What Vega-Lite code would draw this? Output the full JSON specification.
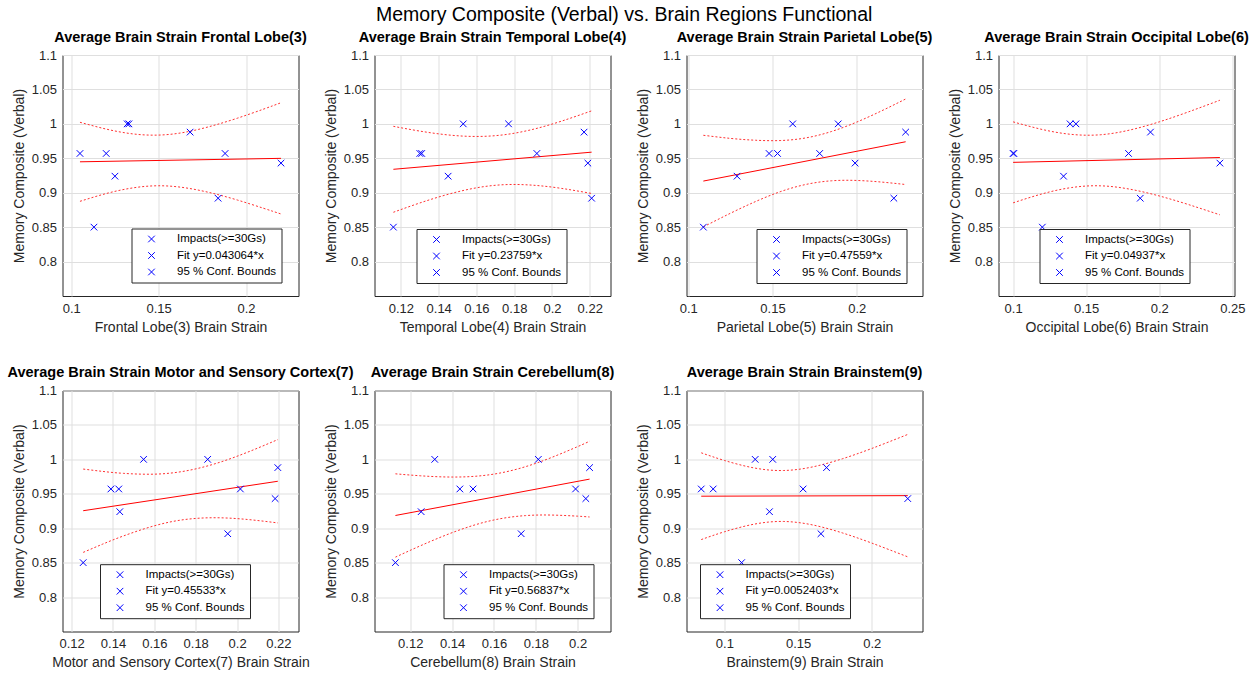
{
  "$schema": "https://vega.github.io/schema/vega-lite/v6.json",
  "background": "white",
  "padding": {"left": 6.5, "top": 4, "right": 5, "bottom": 5},
  "title": {"text": "Memory Composite (Verbal) vs. Brain Regions Functional", "font": "Liberation Sans", "fontSize": 19.5, "fontWeight": "normal", "color": "#000000", "anchor": "middle", "frame": "bounds", "offset": 4, "dx": -4},
  "data": {"values": [
    {"panel": "Frontal", "kind": "point", "series": "Impacts(>=30Gs)", "x": 0.105, "y": 0.957},
    {"panel": "Frontal", "kind": "point", "series": "Impacts(>=30Gs)", "x": 0.113, "y": 0.85},
    {"panel": "Frontal", "kind": "point", "series": "Impacts(>=30Gs)", "x": 0.12, "y": 0.957},
    {"panel": "Frontal", "kind": "point", "series": "Impacts(>=30Gs)", "x": 0.125, "y": 0.924},
    {"panel": "Frontal", "kind": "point", "series": "Impacts(>=30Gs)", "x": 0.132, "y": 1.0},
    {"panel": "Frontal", "kind": "point", "series": "Impacts(>=30Gs)", "x": 0.133, "y": 1.0},
    {"panel": "Frontal", "kind": "point", "series": "Impacts(>=30Gs)", "x": 0.168, "y": 0.988},
    {"panel": "Frontal", "kind": "point", "series": "Impacts(>=30Gs)", "x": 0.184, "y": 0.892},
    {"panel": "Frontal", "kind": "point", "series": "Impacts(>=30Gs)", "x": 0.188, "y": 0.957},
    {"panel": "Frontal", "kind": "point", "series": "Impacts(>=30Gs)", "x": 0.22, "y": 0.943},
    {"panel": "Frontal", "kind": "fit", "series": "Fit y=0.043064*x", "x": 0.105, "y": 0.9449},
    {"panel": "Frontal", "kind": "fit", "series": "Fit y=0.043064*x", "x": 0.22, "y": 0.9499},
    {"panel": "Frontal", "kind": "bound", "part": "upper", "series": "95 % Conf. Bounds", "x": 0.105, "y": 1.0023},
    {"panel": "Frontal", "kind": "bound", "part": "upper", "series": "95 % Conf. Bounds", "x": 0.12, "y": 0.9924},
    {"panel": "Frontal", "kind": "bound", "part": "upper", "series": "95 % Conf. Bounds", "x": 0.135, "y": 0.9855},
    {"panel": "Frontal", "kind": "bound", "part": "upper", "series": "95 % Conf. Bounds", "x": 0.15, "y": 0.9837},
    {"panel": "Frontal", "kind": "bound", "part": "upper", "series": "95 % Conf. Bounds", "x": 0.165, "y": 0.9878},
    {"panel": "Frontal", "kind": "bound", "part": "upper", "series": "95 % Conf. Bounds", "x": 0.18, "y": 0.9967},
    {"panel": "Frontal", "kind": "bound", "part": "upper", "series": "95 % Conf. Bounds", "x": 0.195, "y": 1.0082},
    {"panel": "Frontal", "kind": "bound", "part": "upper", "series": "95 % Conf. Bounds", "x": 0.21, "y": 1.0214},
    {"panel": "Frontal", "kind": "bound", "part": "upper", "series": "95 % Conf. Bounds", "x": 0.22, "y": 1.0307},
    {"panel": "Frontal", "kind": "bound", "part": "lower", "series": "95 % Conf. Bounds", "x": 0.105, "y": 0.8875},
    {"panel": "Frontal", "kind": "bound", "part": "lower", "series": "95 % Conf. Bounds", "x": 0.12, "y": 0.8988},
    {"panel": "Frontal", "kind": "bound", "part": "lower", "series": "95 % Conf. Bounds", "x": 0.135, "y": 0.9069},
    {"panel": "Frontal", "kind": "bound", "part": "lower", "series": "95 % Conf. Bounds", "x": 0.15, "y": 0.9101},
    {"panel": "Frontal", "kind": "bound", "part": "lower", "series": "95 % Conf. Bounds", "x": 0.165, "y": 0.9072},
    {"panel": "Frontal", "kind": "bound", "part": "lower", "series": "95 % Conf. Bounds", "x": 0.18, "y": 0.8997},
    {"panel": "Frontal", "kind": "bound", "part": "lower", "series": "95 % Conf. Bounds", "x": 0.195, "y": 0.8894},
    {"panel": "Frontal", "kind": "bound", "part": "lower", "series": "95 % Conf. Bounds", "x": 0.21, "y": 0.8774},
    {"panel": "Frontal", "kind": "bound", "part": "lower", "series": "95 % Conf. Bounds", "x": 0.22, "y": 0.8691},

    {"panel": "Temporal", "kind": "point", "series": "Impacts(>=30Gs)", "x": 0.116, "y": 0.85},
    {"panel": "Temporal", "kind": "point", "series": "Impacts(>=30Gs)", "x": 0.13, "y": 0.957},
    {"panel": "Temporal", "kind": "point", "series": "Impacts(>=30Gs)", "x": 0.131, "y": 0.957},
    {"panel": "Temporal", "kind": "point", "series": "Impacts(>=30Gs)", "x": 0.145, "y": 0.924},
    {"panel": "Temporal", "kind": "point", "series": "Impacts(>=30Gs)", "x": 0.153, "y": 1.0},
    {"panel": "Temporal", "kind": "point", "series": "Impacts(>=30Gs)", "x": 0.177, "y": 1.0},
    {"panel": "Temporal", "kind": "point", "series": "Impacts(>=30Gs)", "x": 0.192, "y": 0.957},
    {"panel": "Temporal", "kind": "point", "series": "Impacts(>=30Gs)", "x": 0.217, "y": 0.988},
    {"panel": "Temporal", "kind": "point", "series": "Impacts(>=30Gs)", "x": 0.219, "y": 0.943},
    {"panel": "Temporal", "kind": "point", "series": "Impacts(>=30Gs)", "x": 0.221, "y": 0.892},
    {"panel": "Temporal", "kind": "fit", "series": "Fit y=0.23759*x", "x": 0.116, "y": 0.934},
    {"panel": "Temporal", "kind": "fit", "series": "Fit y=0.23759*x", "x": 0.221, "y": 0.9589},
    {"panel": "Temporal", "kind": "bound", "part": "upper", "series": "95 % Conf. Bounds", "x": 0.116, "y": 0.9964},
    {"panel": "Temporal", "kind": "bound", "part": "upper", "series": "95 % Conf. Bounds", "x": 0.13, "y": 0.9895},
    {"panel": "Temporal", "kind": "bound", "part": "upper", "series": "95 % Conf. Bounds", "x": 0.145, "y": 0.9839},
    {"panel": "Temporal", "kind": "bound", "part": "upper", "series": "95 % Conf. Bounds", "x": 0.16, "y": 0.9817},
    {"panel": "Temporal", "kind": "bound", "part": "upper", "series": "95 % Conf. Bounds", "x": 0.175, "y": 0.9843},
    {"panel": "Temporal", "kind": "bound", "part": "upper", "series": "95 % Conf. Bounds", "x": 0.19, "y": 0.9921},
    {"panel": "Temporal", "kind": "bound", "part": "upper", "series": "95 % Conf. Bounds", "x": 0.205, "y": 1.0039},
    {"panel": "Temporal", "kind": "bound", "part": "upper", "series": "95 % Conf. Bounds", "x": 0.221, "y": 1.0189},
    {"panel": "Temporal", "kind": "bound", "part": "lower", "series": "95 % Conf. Bounds", "x": 0.116, "y": 0.8716},
    {"panel": "Temporal", "kind": "bound", "part": "lower", "series": "95 % Conf. Bounds", "x": 0.13, "y": 0.8851},
    {"panel": "Temporal", "kind": "bound", "part": "lower", "series": "95 % Conf. Bounds", "x": 0.145, "y": 0.8977},
    {"panel": "Temporal", "kind": "bound", "part": "lower", "series": "95 % Conf. Bounds", "x": 0.16, "y": 0.9071},
    {"panel": "Temporal", "kind": "bound", "part": "lower", "series": "95 % Conf. Bounds", "x": 0.175, "y": 0.9117},
    {"panel": "Temporal", "kind": "bound", "part": "lower", "series": "95 % Conf. Bounds", "x": 0.19, "y": 0.9109},
    {"panel": "Temporal", "kind": "bound", "part": "lower", "series": "95 % Conf. Bounds", "x": 0.205, "y": 0.9063},
    {"panel": "Temporal", "kind": "bound", "part": "lower", "series": "95 % Conf. Bounds", "x": 0.221, "y": 0.8989},

    {"panel": "Parietal", "kind": "point", "series": "Impacts(>=30Gs)", "x": 0.109, "y": 0.85},
    {"panel": "Parietal", "kind": "point", "series": "Impacts(>=30Gs)", "x": 0.129, "y": 0.924},
    {"panel": "Parietal", "kind": "point", "series": "Impacts(>=30Gs)", "x": 0.148, "y": 0.957},
    {"panel": "Parietal", "kind": "point", "series": "Impacts(>=30Gs)", "x": 0.153, "y": 0.957},
    {"panel": "Parietal", "kind": "point", "series": "Impacts(>=30Gs)", "x": 0.162, "y": 1.0},
    {"panel": "Parietal", "kind": "point", "series": "Impacts(>=30Gs)", "x": 0.178, "y": 0.957},
    {"panel": "Parietal", "kind": "point", "series": "Impacts(>=30Gs)", "x": 0.189, "y": 1.0},
    {"panel": "Parietal", "kind": "point", "series": "Impacts(>=30Gs)", "x": 0.199, "y": 0.943},
    {"panel": "Parietal", "kind": "point", "series": "Impacts(>=30Gs)", "x": 0.222, "y": 0.892},
    {"panel": "Parietal", "kind": "point", "series": "Impacts(>=30Gs)", "x": 0.229, "y": 0.988},
    {"panel": "Parietal", "kind": "fit", "series": "Fit y=0.47559*x", "x": 0.109, "y": 0.9169},
    {"panel": "Parietal", "kind": "fit", "series": "Fit y=0.47559*x", "x": 0.229, "y": 0.974},
    {"panel": "Parietal", "kind": "bound", "part": "upper", "series": "95 % Conf. Bounds", "x": 0.109, "y": 0.9834},
    {"panel": "Parietal", "kind": "bound", "part": "upper", "series": "95 % Conf. Bounds", "x": 0.125, "y": 0.9789},
    {"panel": "Parietal", "kind": "bound", "part": "upper", "series": "95 % Conf. Bounds", "x": 0.14, "y": 0.9762},
    {"panel": "Parietal", "kind": "bound", "part": "upper", "series": "95 % Conf. Bounds", "x": 0.155, "y": 0.9758},
    {"panel": "Parietal", "kind": "bound", "part": "upper", "series": "95 % Conf. Bounds", "x": 0.17, "y": 0.9797},
    {"panel": "Parietal", "kind": "bound", "part": "upper", "series": "95 % Conf. Bounds", "x": 0.185, "y": 0.9889},
    {"panel": "Parietal", "kind": "bound", "part": "upper", "series": "95 % Conf. Bounds", "x": 0.2, "y": 1.0026},
    {"panel": "Parietal", "kind": "bound", "part": "upper", "series": "95 % Conf. Bounds", "x": 0.215, "y": 1.0192},
    {"panel": "Parietal", "kind": "bound", "part": "upper", "series": "95 % Conf. Bounds", "x": 0.229, "y": 1.0361},
    {"panel": "Parietal", "kind": "bound", "part": "lower", "series": "95 % Conf. Bounds", "x": 0.109, "y": 0.8504},
    {"panel": "Parietal", "kind": "bound", "part": "lower", "series": "95 % Conf. Bounds", "x": 0.125, "y": 0.8701},
    {"panel": "Parietal", "kind": "bound", "part": "lower", "series": "95 % Conf. Bounds", "x": 0.14, "y": 0.8872},
    {"panel": "Parietal", "kind": "bound", "part": "lower", "series": "95 % Conf. Bounds", "x": 0.155, "y": 0.9018},
    {"panel": "Parietal", "kind": "bound", "part": "lower", "series": "95 % Conf. Bounds", "x": 0.17, "y": 0.9121},
    {"panel": "Parietal", "kind": "bound", "part": "lower", "series": "95 % Conf. Bounds", "x": 0.185, "y": 0.9173},
    {"panel": "Parietal", "kind": "bound", "part": "lower", "series": "95 % Conf. Bounds", "x": 0.2, "y": 0.9178},
    {"panel": "Parietal", "kind": "bound", "part": "lower", "series": "95 % Conf. Bounds", "x": 0.215, "y": 0.9154},
    {"panel": "Parietal", "kind": "bound", "part": "lower", "series": "95 % Conf. Bounds", "x": 0.229, "y": 0.9119},

    {"panel": "Occipital", "kind": "point", "series": "Impacts(>=30Gs)", "x": 0.1, "y": 0.957},
    {"panel": "Occipital", "kind": "point", "series": "Impacts(>=30Gs)", "x": 0.1005, "y": 0.957},
    {"panel": "Occipital", "kind": "point", "series": "Impacts(>=30Gs)", "x": 0.12, "y": 0.85},
    {"panel": "Occipital", "kind": "point", "series": "Impacts(>=30Gs)", "x": 0.1345, "y": 0.924},
    {"panel": "Occipital", "kind": "point", "series": "Impacts(>=30Gs)", "x": 0.139, "y": 1.0},
    {"panel": "Occipital", "kind": "point", "series": "Impacts(>=30Gs)", "x": 0.143, "y": 1.0},
    {"panel": "Occipital", "kind": "point", "series": "Impacts(>=30Gs)", "x": 0.179, "y": 0.957},
    {"panel": "Occipital", "kind": "point", "series": "Impacts(>=30Gs)", "x": 0.187, "y": 0.892},
    {"panel": "Occipital", "kind": "point", "series": "Impacts(>=30Gs)", "x": 0.194, "y": 0.988},
    {"panel": "Occipital", "kind": "point", "series": "Impacts(>=30Gs)", "x": 0.2415, "y": 0.943},
    {"panel": "Occipital", "kind": "fit", "series": "Fit y=0.04937*x", "x": 0.1, "y": 0.9441},
    {"panel": "Occipital", "kind": "fit", "series": "Fit y=0.04937*x", "x": 0.2415, "y": 0.9511},
    {"panel": "Occipital", "kind": "bound", "part": "upper", "series": "95 % Conf. Bounds", "x": 0.1, "y": 1.0029},
    {"panel": "Occipital", "kind": "bound", "part": "upper", "series": "95 % Conf. Bounds", "x": 0.12, "y": 0.9918},
    {"panel": "Occipital", "kind": "bound", "part": "upper", "series": "95 % Conf. Bounds", "x": 0.14, "y": 0.9847},
    {"panel": "Occipital", "kind": "bound", "part": "upper", "series": "95 % Conf. Bounds", "x": 0.16, "y": 0.9842},
    {"panel": "Occipital", "kind": "bound", "part": "upper", "series": "95 % Conf. Bounds", "x": 0.18, "y": 0.9911},
    {"panel": "Occipital", "kind": "bound", "part": "upper", "series": "95 % Conf. Bounds", "x": 0.2, "y": 1.0029},
    {"panel": "Occipital", "kind": "bound", "part": "upper", "series": "95 % Conf. Bounds", "x": 0.22, "y": 1.0174},
    {"panel": "Occipital", "kind": "bound", "part": "upper", "series": "95 % Conf. Bounds", "x": 0.2415, "y": 1.0343},
    {"panel": "Occipital", "kind": "bound", "part": "lower", "series": "95 % Conf. Bounds", "x": 0.1, "y": 0.8853},
    {"panel": "Occipital", "kind": "bound", "part": "lower", "series": "95 % Conf. Bounds", "x": 0.12, "y": 0.8984},
    {"panel": "Occipital", "kind": "bound", "part": "lower", "series": "95 % Conf. Bounds", "x": 0.14, "y": 0.9075},
    {"panel": "Occipital", "kind": "bound", "part": "lower", "series": "95 % Conf. Bounds", "x": 0.16, "y": 0.91},
    {"panel": "Occipital", "kind": "bound", "part": "lower", "series": "95 % Conf. Bounds", "x": 0.18, "y": 0.9051},
    {"panel": "Occipital", "kind": "bound", "part": "lower", "series": "95 % Conf. Bounds", "x": 0.2, "y": 0.8953},
    {"panel": "Occipital", "kind": "bound", "part": "lower", "series": "95 % Conf. Bounds", "x": 0.22, "y": 0.8828},
    {"panel": "Occipital", "kind": "bound", "part": "lower", "series": "95 % Conf. Bounds", "x": 0.2415, "y": 0.8679},

    {"panel": "Motor", "kind": "point", "series": "Impacts(>=30Gs)", "x": 0.1256, "y": 0.85},
    {"panel": "Motor", "kind": "point", "series": "Impacts(>=30Gs)", "x": 0.139, "y": 0.957},
    {"panel": "Motor", "kind": "point", "series": "Impacts(>=30Gs)", "x": 0.1428, "y": 0.957},
    {"panel": "Motor", "kind": "point", "series": "Impacts(>=30Gs)", "x": 0.1433, "y": 0.924},
    {"panel": "Motor", "kind": "point", "series": "Impacts(>=30Gs)", "x": 0.1548, "y": 1.0},
    {"panel": "Motor", "kind": "point", "series": "Impacts(>=30Gs)", "x": 0.1858, "y": 1.0},
    {"panel": "Motor", "kind": "point", "series": "Impacts(>=30Gs)", "x": 0.1955, "y": 0.892},
    {"panel": "Motor", "kind": "point", "series": "Impacts(>=30Gs)", "x": 0.2016, "y": 0.957},
    {"panel": "Motor", "kind": "point", "series": "Impacts(>=30Gs)", "x": 0.2184, "y": 0.943},
    {"panel": "Motor", "kind": "point", "series": "Impacts(>=30Gs)", "x": 0.2197, "y": 0.988},
    {"panel": "Motor", "kind": "fit", "series": "Fit y=0.45533*x", "x": 0.1256, "y": 0.9254},
    {"panel": "Motor", "kind": "fit", "series": "Fit y=0.45533*x", "x": 0.2197, "y": 0.9682},
    {"panel": "Motor", "kind": "bound", "part": "upper", "series": "95 % Conf. Bounds", "x": 0.1256, "y": 0.9859},
    {"panel": "Motor", "kind": "bound", "part": "upper", "series": "95 % Conf. Bounds", "x": 0.135, "y": 0.9825},
    {"panel": "Motor", "kind": "bound", "part": "upper", "series": "95 % Conf. Bounds", "x": 0.145, "y": 0.9797},
    {"panel": "Motor", "kind": "bound", "part": "upper", "series": "95 % Conf. Bounds", "x": 0.16, "y": 0.9785},
    {"panel": "Motor", "kind": "bound", "part": "upper", "series": "95 % Conf. Bounds", "x": 0.175, "y": 0.9831},
    {"panel": "Motor", "kind": "bound", "part": "upper", "series": "95 % Conf. Bounds", "x": 0.19, "y": 0.9942},
    {"panel": "Motor", "kind": "bound", "part": "upper", "series": "95 % Conf. Bounds", "x": 0.205, "y": 1.0103},
    {"panel": "Motor", "kind": "bound", "part": "upper", "series": "95 % Conf. Bounds", "x": 0.2197, "y": 1.0287},
    {"panel": "Motor", "kind": "bound", "part": "lower", "series": "95 % Conf. Bounds", "x": 0.1256, "y": 0.8649},
    {"panel": "Motor", "kind": "bound", "part": "lower", "series": "95 % Conf. Bounds", "x": 0.135, "y": 0.8769},
    {"panel": "Motor", "kind": "bound", "part": "lower", "series": "95 % Conf. Bounds", "x": 0.145, "y": 0.8887},
    {"panel": "Motor", "kind": "bound", "part": "lower", "series": "95 % Conf. Bounds", "x": 0.16, "y": 0.9035},
    {"panel": "Motor", "kind": "bound", "part": "lower", "series": "95 % Conf. Bounds", "x": 0.175, "y": 0.9127},
    {"panel": "Motor", "kind": "bound", "part": "lower", "series": "95 % Conf. Bounds", "x": 0.19, "y": 0.9152},
    {"panel": "Motor", "kind": "bound", "part": "lower", "series": "95 % Conf. Bounds", "x": 0.205, "y": 0.9127},
    {"panel": "Motor", "kind": "bound", "part": "lower", "series": "95 % Conf. Bounds", "x": 0.2197, "y": 0.9077},

    {"panel": "Cerebellum", "kind": "point", "series": "Impacts(>=30Gs)", "x": 0.1129, "y": 0.85},
    {"panel": "Cerebellum", "kind": "point", "series": "Impacts(>=30Gs)", "x": 0.1252, "y": 0.924},
    {"panel": "Cerebellum", "kind": "point", "series": "Impacts(>=30Gs)", "x": 0.1317, "y": 1.0},
    {"panel": "Cerebellum", "kind": "point", "series": "Impacts(>=30Gs)", "x": 0.1437, "y": 0.957},
    {"panel": "Cerebellum", "kind": "point", "series": "Impacts(>=30Gs)", "x": 0.15, "y": 0.957},
    {"panel": "Cerebellum", "kind": "point", "series": "Impacts(>=30Gs)", "x": 0.173, "y": 0.892},
    {"panel": "Cerebellum", "kind": "point", "series": "Impacts(>=30Gs)", "x": 0.1812, "y": 1.0},
    {"panel": "Cerebellum", "kind": "point", "series": "Impacts(>=30Gs)", "x": 0.199, "y": 0.957},
    {"panel": "Cerebellum", "kind": "point", "series": "Impacts(>=30Gs)", "x": 0.2039, "y": 0.943},
    {"panel": "Cerebellum", "kind": "point", "series": "Impacts(>=30Gs)", "x": 0.2057, "y": 0.988},
    {"panel": "Cerebellum", "kind": "fit", "series": "Fit y=0.56837*x", "x": 0.1129, "y": 0.9185},
    {"panel": "Cerebellum", "kind": "fit", "series": "Fit y=0.56837*x", "x": 0.2057, "y": 0.9713},
    {"panel": "Cerebellum", "kind": "bound", "part": "upper", "series": "95 % Conf. Bounds", "x": 0.1129, "y": 0.979},
    {"panel": "Cerebellum", "kind": "bound", "part": "upper", "series": "95 % Conf. Bounds", "x": 0.125, "y": 0.9761},
    {"panel": "Cerebellum", "kind": "bound", "part": "upper", "series": "95 % Conf. Bounds", "x": 0.1375, "y": 0.9744},
    {"panel": "Cerebellum", "kind": "bound", "part": "upper", "series": "95 % Conf. Bounds", "x": 0.15, "y": 0.9752},
    {"panel": "Cerebellum", "kind": "bound", "part": "upper", "series": "95 % Conf. Bounds", "x": 0.1625, "y": 0.9799},
    {"panel": "Cerebellum", "kind": "bound", "part": "upper", "series": "95 % Conf. Bounds", "x": 0.175, "y": 0.9893},
    {"panel": "Cerebellum", "kind": "bound", "part": "upper", "series": "95 % Conf. Bounds", "x": 0.1875, "y": 1.0027},
    {"panel": "Cerebellum", "kind": "bound", "part": "upper", "series": "95 % Conf. Bounds", "x": 0.2, "y": 1.0185},
    {"panel": "Cerebellum", "kind": "bound", "part": "upper", "series": "95 % Conf. Bounds", "x": 0.2057, "y": 1.0263},
    {"panel": "Cerebellum", "kind": "bound", "part": "lower", "series": "95 % Conf. Bounds", "x": 0.1129, "y": 0.858},
    {"panel": "Cerebellum", "kind": "bound", "part": "lower", "series": "95 % Conf. Bounds", "x": 0.125, "y": 0.8747},
    {"panel": "Cerebellum", "kind": "bound", "part": "lower", "series": "95 % Conf. Bounds", "x": 0.1375, "y": 0.8906},
    {"panel": "Cerebellum", "kind": "bound", "part": "lower", "series": "95 % Conf. Bounds", "x": 0.15, "y": 0.904},
    {"panel": "Cerebellum", "kind": "bound", "part": "lower", "series": "95 % Conf. Bounds", "x": 0.1625, "y": 0.9135},
    {"panel": "Cerebellum", "kind": "bound", "part": "lower", "series": "95 % Conf. Bounds", "x": 0.175, "y": 0.9183},
    {"panel": "Cerebellum", "kind": "bound", "part": "lower", "series": "95 % Conf. Bounds", "x": 0.1875, "y": 0.9191},
    {"panel": "Cerebellum", "kind": "bound", "part": "lower", "series": "95 % Conf. Bounds", "x": 0.2, "y": 0.9175},
    {"panel": "Cerebellum", "kind": "bound", "part": "lower", "series": "95 % Conf. Bounds", "x": 0.2057, "y": 0.9163},

    {"panel": "Brainstem", "kind": "point", "series": "Impacts(>=30Gs)", "x": 0.0843, "y": 0.957},
    {"panel": "Brainstem", "kind": "point", "series": "Impacts(>=30Gs)", "x": 0.0924, "y": 0.957},
    {"panel": "Brainstem", "kind": "point", "series": "Impacts(>=30Gs)", "x": 0.1117, "y": 0.85},
    {"panel": "Brainstem", "kind": "point", "series": "Impacts(>=30Gs)", "x": 0.1209, "y": 1.0},
    {"panel": "Brainstem", "kind": "point", "series": "Impacts(>=30Gs)", "x": 0.1306, "y": 0.924},
    {"panel": "Brainstem", "kind": "point", "series": "Impacts(>=30Gs)", "x": 0.1328, "y": 1.0},
    {"panel": "Brainstem", "kind": "point", "series": "Impacts(>=30Gs)", "x": 0.1534, "y": 0.957},
    {"panel": "Brainstem", "kind": "point", "series": "Impacts(>=30Gs)", "x": 0.1655, "y": 0.892},
    {"panel": "Brainstem", "kind": "point", "series": "Impacts(>=30Gs)", "x": 0.1693, "y": 0.988},
    {"panel": "Brainstem", "kind": "point", "series": "Impacts(>=30Gs)", "x": 0.2244, "y": 0.943},
    {"panel": "Brainstem", "kind": "fit", "series": "Fit y=0.0052403*x", "x": 0.0843, "y": 0.9465},
    {"panel": "Brainstem", "kind": "fit", "series": "Fit y=0.0052403*x", "x": 0.2244, "y": 0.9473},
    {"panel": "Brainstem", "kind": "bound", "part": "upper", "series": "95 % Conf. Bounds", "x": 0.0843, "y": 1.0095},
    {"panel": "Brainstem", "kind": "bound", "part": "upper", "series": "95 % Conf. Bounds", "x": 0.1, "y": 0.9984},
    {"panel": "Brainstem", "kind": "bound", "part": "upper", "series": "95 % Conf. Bounds", "x": 0.12, "y": 0.9876},
    {"panel": "Brainstem", "kind": "bound", "part": "upper", "series": "95 % Conf. Bounds", "x": 0.14, "y": 0.9838},
    {"panel": "Brainstem", "kind": "bound", "part": "upper", "series": "95 % Conf. Bounds", "x": 0.16, "y": 0.9891},
    {"panel": "Brainstem", "kind": "bound", "part": "upper", "series": "95 % Conf. Bounds", "x": 0.18, "y": 1.0008},
    {"panel": "Brainstem", "kind": "bound", "part": "upper", "series": "95 % Conf. Bounds", "x": 0.2, "y": 1.0158},
    {"panel": "Brainstem", "kind": "bound", "part": "upper", "series": "95 % Conf. Bounds", "x": 0.2244, "y": 1.0362},
    {"panel": "Brainstem", "kind": "bound", "part": "lower", "series": "95 % Conf. Bounds", "x": 0.0843, "y": 0.8835},
    {"panel": "Brainstem", "kind": "bound", "part": "lower", "series": "95 % Conf. Bounds", "x": 0.1, "y": 0.8948},
    {"panel": "Brainstem", "kind": "bound", "part": "lower", "series": "95 % Conf. Bounds", "x": 0.12, "y": 0.9058},
    {"panel": "Brainstem", "kind": "bound", "part": "lower", "series": "95 % Conf. Bounds", "x": 0.14, "y": 0.9098},
    {"panel": "Brainstem", "kind": "bound", "part": "lower", "series": "95 % Conf. Bounds", "x": 0.16, "y": 0.9047},
    {"panel": "Brainstem", "kind": "bound", "part": "lower", "series": "95 % Conf. Bounds", "x": 0.18, "y": 0.8932},
    {"panel": "Brainstem", "kind": "bound", "part": "lower", "series": "95 % Conf. Bounds", "x": 0.2, "y": 0.8784},
    {"panel": "Brainstem", "kind": "bound", "part": "lower", "series": "95 % Conf. Bounds", "x": 0.2244, "y": 0.8584}
  ]},
  "columns": 4,
  "bounds": "flush",
  "spacing": {"row": 94.5, "column": 76},
  "concat": [
    {
      "title": "Average Brain Strain Frontal Lobe(3)",
      "width": 236, "height": 241,
      "transform": [{"filter": "datum.panel === 'Frontal'"}],
      "encoding": {
        "x": {"field": "x", "type": "quantitative", "scale": {"domain": [0.095, 0.23], "nice": false, "zero": false}, "axis": {"values": [0.1, 0.15, 0.2], "format": "~g", "title": "Frontal Lobe(3) Brain Strain"}},
        "y": {"field": "y", "type": "quantitative", "scale": {"domain": [0.75, 1.1], "nice": false, "zero": false}, "axis": {"values": [0.8, 0.85, 0.9, 0.95, 1, 1.05, 1.1], "format": "~g", "title": "Memory Composite (Verbal)"}}
      },
      "layer": [
        {"transform": [{"filter": "datum.kind === 'bound'"}], "mark": {"type": "line", "color": "#ff3030", "strokeWidth": 1, "strokeDash": [2, 2], "interpolate": "natural"}, "encoding": {"detail": {"field": "part"}}},
        {"transform": [{"filter": "datum.kind === 'fit'"}], "mark": {"type": "line", "color": "#ff0000", "strokeWidth": 1}, "encoding": {}},
        {"transform": [{"filter": "datum.kind === 'point'"}], "mark": {"type": "point", "color": "#0000ff", "shape": "M-0.22,-0.22L0.22,0.22M0.22,-0.22L-0.22,0.22", "filled": false, "size": 900, "strokeWidth": 1},
          "encoding": {"opacity": {"field": "series", "type": "ordinal", "scale": {"domain": ["Impacts(>=30Gs)", "Fit y=0.043064*x", "95 % Conf. Bounds"], "range": [1, 1, 1]},
            "legend": {"title": null, "orient": "none", "legendX": 69, "legendY": 173.5,
              "encode": {"symbols": {
                "fill": {"value": "transparent"},
                "stroke": {"condition": [{"test": "datum.value === 'Impacts(>=30Gs)'", "value": "#0000ff"}, {"test": "datum.value === '95 % Conf. Bounds'", "value": "#ff3030"}], "value": "#ff0000"},
                "shape": {"condition": {"test": "datum.value === 'Impacts(>=30Gs)'", "value": "M-0.22,-0.22L0.22,0.22M0.22,-0.22L-0.22,0.22"}, "value": "stroke"},
                "strokeDash": {"condition": {"test": "datum.value === '95 % Conf. Bounds'", "value": [2, 2]}, "value": [1, 0]}
              }}}}}}
      ]
    },
    {
      "title": "Average Brain Strain Temporal Lobe(4)",
      "width": 236, "height": 241,
      "transform": [{"filter": "datum.panel === 'Temporal'"}],
      "encoding": {
        "x": {"field": "x", "type": "quantitative", "scale": {"domain": [0.106, 0.231], "nice": false, "zero": false}, "axis": {"values": [0.12, 0.14, 0.16, 0.18, 0.2, 0.22], "format": "~g", "title": "Temporal Lobe(4) Brain Strain"}},
        "y": {"field": "y", "type": "quantitative", "scale": {"domain": [0.75, 1.1], "nice": false, "zero": false}, "axis": {"values": [0.8, 0.85, 0.9, 0.95, 1, 1.05, 1.1], "format": "~g", "title": "Memory Composite (Verbal)"}}
      },
      "layer": [
        {"transform": [{"filter": "datum.kind === 'bound'"}], "mark": {"type": "line", "color": "#ff3030", "strokeWidth": 1, "strokeDash": [2, 2], "interpolate": "natural"}, "encoding": {"detail": {"field": "part"}}},
        {"transform": [{"filter": "datum.kind === 'fit'"}], "mark": {"type": "line", "color": "#ff0000", "strokeWidth": 1}, "encoding": {}},
        {"transform": [{"filter": "datum.kind === 'point'"}], "mark": {"type": "point", "color": "#0000ff", "shape": "M-0.22,-0.22L0.22,0.22M0.22,-0.22L-0.22,0.22", "filled": false, "size": 900, "strokeWidth": 1},
          "encoding": {"opacity": {"field": "series", "type": "ordinal", "scale": {"domain": ["Impacts(>=30Gs)", "Fit y=0.23759*x", "95 % Conf. Bounds"], "range": [1, 1, 1]},
            "legend": {"title": null, "orient": "none", "legendX": 42, "legendY": 174,
              "encode": {"symbols": {
                "fill": {"value": "transparent"},
                "stroke": {"condition": [{"test": "datum.value === 'Impacts(>=30Gs)'", "value": "#0000ff"}, {"test": "datum.value === '95 % Conf. Bounds'", "value": "#ff3030"}], "value": "#ff0000"},
                "shape": {"condition": {"test": "datum.value === 'Impacts(>=30Gs)'", "value": "M-0.22,-0.22L0.22,0.22M0.22,-0.22L-0.22,0.22"}, "value": "stroke"},
                "strokeDash": {"condition": {"test": "datum.value === '95 % Conf. Bounds'", "value": [2, 2]}, "value": [1, 0]}
              }}}}}}
      ]
    },
    {
      "title": "Average Brain Strain Parietal Lobe(5)",
      "width": 236, "height": 241,
      "transform": [{"filter": "datum.panel === 'Parietal'"}],
      "encoding": {
        "x": {"field": "x", "type": "quantitative", "scale": {"domain": [0.099, 0.239], "nice": false, "zero": false}, "axis": {"values": [0.1, 0.15, 0.2], "format": "~g", "title": "Parietal Lobe(5) Brain Strain"}},
        "y": {"field": "y", "type": "quantitative", "scale": {"domain": [0.75, 1.1], "nice": false, "zero": false}, "axis": {"values": [0.8, 0.85, 0.9, 0.95, 1, 1.05, 1.1], "format": "~g", "title": "Memory Composite (Verbal)"}}
      },
      "layer": [
        {"transform": [{"filter": "datum.kind === 'bound'"}], "mark": {"type": "line", "color": "#ff3030", "strokeWidth": 1, "strokeDash": [2, 2], "interpolate": "natural"}, "encoding": {"detail": {"field": "part"}}},
        {"transform": [{"filter": "datum.kind === 'fit'"}], "mark": {"type": "line", "color": "#ff0000", "strokeWidth": 1}, "encoding": {}},
        {"transform": [{"filter": "datum.kind === 'point'"}], "mark": {"type": "point", "color": "#0000ff", "shape": "M-0.22,-0.22L0.22,0.22M0.22,-0.22L-0.22,0.22", "filled": false, "size": 900, "strokeWidth": 1},
          "encoding": {"opacity": {"field": "series", "type": "ordinal", "scale": {"domain": ["Impacts(>=30Gs)", "Fit y=0.47559*x", "95 % Conf. Bounds"], "range": [1, 1, 1]},
            "legend": {"title": null, "orient": "none", "legendX": 70, "legendY": 174,
              "encode": {"symbols": {
                "fill": {"value": "transparent"},
                "stroke": {"condition": [{"test": "datum.value === 'Impacts(>=30Gs)'", "value": "#0000ff"}, {"test": "datum.value === '95 % Conf. Bounds'", "value": "#ff3030"}], "value": "#ff0000"},
                "shape": {"condition": {"test": "datum.value === 'Impacts(>=30Gs)'", "value": "M-0.22,-0.22L0.22,0.22M0.22,-0.22L-0.22,0.22"}, "value": "stroke"},
                "strokeDash": {"condition": {"test": "datum.value === '95 % Conf. Bounds'", "value": [2, 2]}, "value": [1, 0]}
              }}}}}}
      ]
    },
    {
      "title": "Average Brain Strain Occipital Lobe(6)",
      "width": 236, "height": 241,
      "transform": [{"filter": "datum.panel === 'Occipital'"}],
      "encoding": {
        "x": {"field": "x", "type": "quantitative", "scale": {"domain": [0.09, 0.2515], "nice": false, "zero": false}, "axis": {"values": [0.1, 0.15, 0.2, 0.25], "format": "~g", "title": "Occipital Lobe(6) Brain Strain"}},
        "y": {"field": "y", "type": "quantitative", "scale": {"domain": [0.75, 1.1], "nice": false, "zero": false}, "axis": {"values": [0.8, 0.85, 0.9, 0.95, 1, 1.05, 1.1], "format": "~g", "title": "Memory Composite (Verbal)"}}
      },
      "layer": [
        {"transform": [{"filter": "datum.kind === 'bound'"}], "mark": {"type": "line", "color": "#ff3030", "strokeWidth": 1, "strokeDash": [2, 2], "interpolate": "natural"}, "encoding": {"detail": {"field": "part"}}},
        {"transform": [{"filter": "datum.kind === 'fit'"}], "mark": {"type": "line", "color": "#ff0000", "strokeWidth": 1}, "encoding": {}},
        {"transform": [{"filter": "datum.kind === 'point'"}], "mark": {"type": "point", "color": "#0000ff", "shape": "M-0.22,-0.22L0.22,0.22M0.22,-0.22L-0.22,0.22", "filled": false, "size": 900, "strokeWidth": 1},
          "encoding": {"opacity": {"field": "series", "type": "ordinal", "scale": {"domain": ["Impacts(>=30Gs)", "Fit y=0.04937*x", "95 % Conf. Bounds"], "range": [1, 1, 1]},
            "legend": {"title": null, "orient": "none", "legendX": 41, "legendY": 174,
              "encode": {"symbols": {
                "fill": {"value": "transparent"},
                "stroke": {"condition": [{"test": "datum.value === 'Impacts(>=30Gs)'", "value": "#0000ff"}, {"test": "datum.value === '95 % Conf. Bounds'", "value": "#ff3030"}], "value": "#ff0000"},
                "shape": {"condition": {"test": "datum.value === 'Impacts(>=30Gs)'", "value": "M-0.22,-0.22L0.22,0.22M0.22,-0.22L-0.22,0.22"}, "value": "stroke"},
                "strokeDash": {"condition": {"test": "datum.value === '95 % Conf. Bounds'", "value": [2, 2]}, "value": [1, 0]}
              }}}}}}
      ]
    },
    {
      "title": "Average Brain Strain Motor and Sensory Cortex(7)",
      "width": 236, "height": 241,
      "transform": [{"filter": "datum.panel === 'Motor'"}],
      "encoding": {
        "x": {"field": "x", "type": "quantitative", "scale": {"domain": [0.1156, 0.2297], "nice": false, "zero": false}, "axis": {"values": [0.12, 0.14, 0.16, 0.18, 0.2, 0.22], "format": "~g", "title": "Motor and Sensory Cortex(7) Brain Strain"}},
        "y": {"field": "y", "type": "quantitative", "scale": {"domain": [0.75, 1.1], "nice": false, "zero": false}, "axis": {"values": [0.8, 0.85, 0.9, 0.95, 1, 1.05, 1.1], "format": "~g", "title": "Memory Composite (Verbal)"}}
      },
      "layer": [
        {"transform": [{"filter": "datum.kind === 'bound'"}], "mark": {"type": "line", "color": "#ff3030", "strokeWidth": 1, "strokeDash": [2, 2], "interpolate": "natural"}, "encoding": {"detail": {"field": "part"}}},
        {"transform": [{"filter": "datum.kind === 'fit'"}], "mark": {"type": "line", "color": "#ff0000", "strokeWidth": 1}, "encoding": {}},
        {"transform": [{"filter": "datum.kind === 'point'"}], "mark": {"type": "point", "color": "#0000ff", "shape": "M-0.22,-0.22L0.22,0.22M0.22,-0.22L-0.22,0.22", "filled": false, "size": 900, "strokeWidth": 1},
          "encoding": {"opacity": {"field": "series", "type": "ordinal", "scale": {"domain": ["Impacts(>=30Gs)", "Fit y=0.45533*x", "95 % Conf. Bounds"], "range": [1, 1, 1]},
            "legend": {"title": null, "orient": "none", "legendX": 37.5, "legendY": 173.7,
              "encode": {"symbols": {
                "fill": {"value": "transparent"},
                "stroke": {"condition": [{"test": "datum.value === 'Impacts(>=30Gs)'", "value": "#0000ff"}, {"test": "datum.value === '95 % Conf. Bounds'", "value": "#ff3030"}], "value": "#ff0000"},
                "shape": {"condition": {"test": "datum.value === 'Impacts(>=30Gs)'", "value": "M-0.22,-0.22L0.22,0.22M0.22,-0.22L-0.22,0.22"}, "value": "stroke"},
                "strokeDash": {"condition": {"test": "datum.value === '95 % Conf. Bounds'", "value": [2, 2]}, "value": [1, 0]}
              }}}}}}
      ]
    },
    {
      "title": "Average Brain Strain Cerebellum(8)",
      "width": 236, "height": 241,
      "transform": [{"filter": "datum.panel === 'Cerebellum'"}],
      "encoding": {
        "x": {"field": "x", "type": "quantitative", "scale": {"domain": [0.1029, 0.2157], "nice": false, "zero": false}, "axis": {"values": [0.12, 0.14, 0.16, 0.18, 0.2], "format": "~g", "title": "Cerebellum(8) Brain Strain"}},
        "y": {"field": "y", "type": "quantitative", "scale": {"domain": [0.75, 1.1], "nice": false, "zero": false}, "axis": {"values": [0.8, 0.85, 0.9, 0.95, 1, 1.05, 1.1], "format": "~g", "title": "Memory Composite (Verbal)"}}
      },
      "layer": [
        {"transform": [{"filter": "datum.kind === 'bound'"}], "mark": {"type": "line", "color": "#ff3030", "strokeWidth": 1, "strokeDash": [2, 2], "interpolate": "natural"}, "encoding": {"detail": {"field": "part"}}},
        {"transform": [{"filter": "datum.kind === 'fit'"}], "mark": {"type": "line", "color": "#ff0000", "strokeWidth": 1}, "encoding": {}},
        {"transform": [{"filter": "datum.kind === 'point'"}], "mark": {"type": "point", "color": "#0000ff", "shape": "M-0.22,-0.22L0.22,0.22M0.22,-0.22L-0.22,0.22", "filled": false, "size": 900, "strokeWidth": 1},
          "encoding": {"opacity": {"field": "series", "type": "ordinal", "scale": {"domain": ["Impacts(>=30Gs)", "Fit y=0.56837*x", "95 % Conf. Bounds"], "range": [1, 1, 1]},
            "legend": {"title": null, "orient": "none", "legendX": 69, "legendY": 173.7,
              "encode": {"symbols": {
                "fill": {"value": "transparent"},
                "stroke": {"condition": [{"test": "datum.value === 'Impacts(>=30Gs)'", "value": "#0000ff"}, {"test": "datum.value === '95 % Conf. Bounds'", "value": "#ff3030"}], "value": "#ff0000"},
                "shape": {"condition": {"test": "datum.value === 'Impacts(>=30Gs)'", "value": "M-0.22,-0.22L0.22,0.22M0.22,-0.22L-0.22,0.22"}, "value": "stroke"},
                "strokeDash": {"condition": {"test": "datum.value === '95 % Conf. Bounds'", "value": [2, 2]}, "value": [1, 0]}
              }}}}}}
      ]
    },
    {
      "title": "Average Brain Strain Brainstem(9)",
      "width": 236, "height": 241,
      "transform": [{"filter": "datum.panel === 'Brainstem'"}],
      "encoding": {
        "x": {"field": "x", "type": "quantitative", "scale": {"domain": [0.0743, 0.2344], "nice": false, "zero": false}, "axis": {"values": [0.1, 0.15, 0.2], "format": "~g", "title": "Brainstem(9) Brain Strain"}},
        "y": {"field": "y", "type": "quantitative", "scale": {"domain": [0.75, 1.1], "nice": false, "zero": false}, "axis": {"values": [0.8, 0.85, 0.9, 0.95, 1, 1.05, 1.1], "format": "~g", "title": "Memory Composite (Verbal)"}}
      },
      "layer": [
        {"transform": [{"filter": "datum.kind === 'bound'"}], "mark": {"type": "line", "color": "#ff3030", "strokeWidth": 1, "strokeDash": [2, 2], "interpolate": "natural"}, "encoding": {"detail": {"field": "part"}}},
        {"transform": [{"filter": "datum.kind === 'fit'"}], "mark": {"type": "line", "color": "#ff0000", "strokeWidth": 1}, "encoding": {}},
        {"transform": [{"filter": "datum.kind === 'point'"}], "mark": {"type": "point", "color": "#0000ff", "shape": "M-0.22,-0.22L0.22,0.22M0.22,-0.22L-0.22,0.22", "filled": false, "size": 900, "strokeWidth": 1},
          "encoding": {"opacity": {"field": "series", "type": "ordinal", "scale": {"domain": ["Impacts(>=30Gs)", "Fit y=0.0052403*x", "95 % Conf. Bounds"], "range": [1, 1, 1]},
            "legend": {"title": null, "orient": "none", "legendX": 13.5, "legendY": 173.7,
              "encode": {"symbols": {
                "fill": {"value": "transparent"},
                "stroke": {"condition": [{"test": "datum.value === 'Impacts(>=30Gs)'", "value": "#0000ff"}, {"test": "datum.value === '95 % Conf. Bounds'", "value": "#ff3030"}], "value": "#ff0000"},
                "shape": {"condition": {"test": "datum.value === 'Impacts(>=30Gs)'", "value": "M-0.22,-0.22L0.22,0.22M0.22,-0.22L-0.22,0.22"}, "value": "stroke"},
                "strokeDash": {"condition": {"test": "datum.value === '95 % Conf. Bounds'", "value": [2, 2]}, "value": [1, 0]}
              }}}}}}
      ]
    }
  ],
  "resolve": {
    "scale": {"x": "independent", "y": "independent", "opacity": "independent"},
    "legend": {"opacity": "independent"}
  },
  "config": {
    "font": "Liberation Sans",
    "view": {"stroke": "#262626", "strokeWidth": 1},
    "axis": {
      "domain": false, "ticks": false, "grid": true, "gridColor": "#dfdfdf", "gridWidth": 1,
      "labelFont": "Liberation Sans", "labelFontSize": 13, "labelColor": "#262626", "labelPadding": 6,
      "labelFlush": false, "labelOverlap": false, "labelBound": false,
      "titleFont": "Liberation Sans", "titleFontSize": 14, "titleFontWeight": "normal", "titleColor": "#262626"
    },
    "axisX": {"titlePadding": 5},
    "axisY": {"titlePadding": 5},
    "legend": {
      "labelFont": "Liberation Sans", "labelFontSize": 11.5, "labelColor": "#000000",
      "symbolSize": 900, "symbolStrokeWidth": 1, "strokeColor": "#262626", "fillColor": "#ffffff",
      "padding": 4.5, "labelOffset": 10, "rowPadding": 4.5, "clipHeight": 12, "cornerRadius": 0
    },
    "title": {"font": "Liberation Sans", "fontSize": 14.5, "fontWeight": "bold", "color": "#000000", "offset": 4}
  }
}
